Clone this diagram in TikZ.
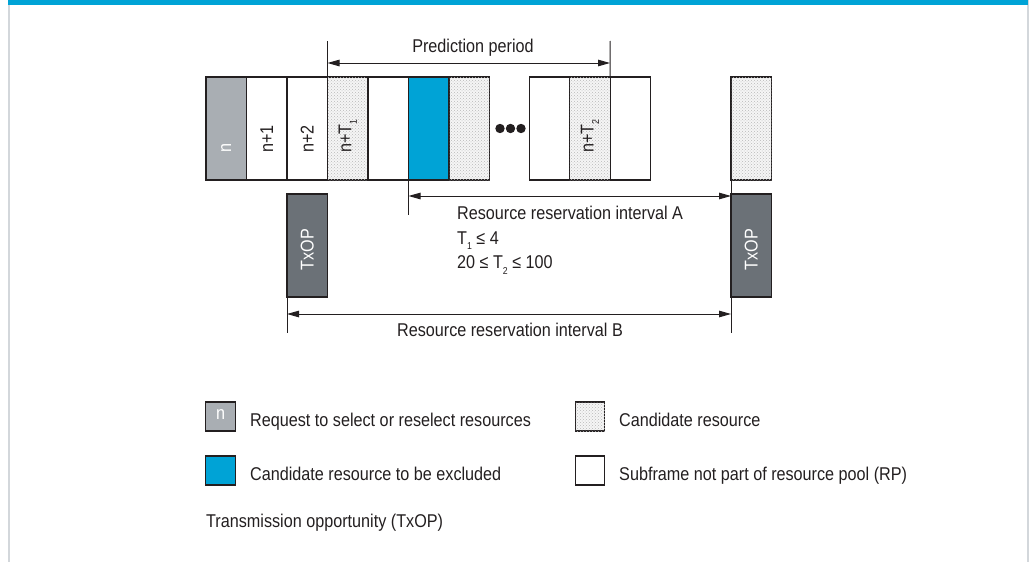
\documentclass[tikz,border=0pt]{standalone}
\usepackage{fontspec}
\setmainfont[FakeStretch=0.875]{Liberation Sans}
\usetikzlibrary{arrows.meta,patterns}
\definecolor{rsblue}{HTML}{00A3D6}
\definecolor{reqgray}{HTML}{A9AEB3}
\definecolor{txgray}{HTML}{6B7177}
\definecolor{ink}{HTML}{231F20}
\definecolor{framegray}{HTML}{D3D7DB}
\newcommand\sbs[1]{\raisebox{-0.3em}{\fontsize{10}{10}\selectfont #1}}

\begin{document}
\begin{tikzpicture}[x=1pt,y=-1pt,
  cell/.style={draw=ink, line width=1.1pt, minimum width=40.5pt, minimum height=103pt,
    inner sep=0pt, outer sep=0pt},
  emptycell/.style={cell, fill=white},
  candidate/.style={fill=gray!8, postaction={pattern=crosshatch dots, pattern color=gray!55}},
  candcell/.style={cell, candidate},
  reqcell/.style={cell, fill=reqgray},
  exclcell/.style={cell, fill=rsblue},
  txopbox/.style={cell, fill=txgray},
  legbox/.style={draw=ink, line width=1.1pt, minimum width=29.5pt, minimum height=29pt,
    inner sep=0pt, outer sep=0pt},
  txt/.style={font=\fontsize{18.5}{21}\selectfont, text=ink, inner sep=0pt},
  wtxt/.style={font=\fontsize{18.5}{21}\selectfont, text=white, inner sep=0pt},
  vlabel/.style={txt, rotate=90, anchor=west},
  tick/.style={draw=ink, line width=1pt},
  dim/.style={draw=ink, line width=1pt,
    {Triangle[length=12pt,width=6.5pt]}-{Triangle[length=12pt,width=6.5pt]}}]

\useasboundingbox (0,0) rectangle (1029,562);

% page frame
\fill[framegray] (7.5,0) rectangle (9.5,562);
\fill[framegray] (1026.5,0) rectangle (1028.5,562);
\fill[rsblue] (8,0) rectangle (1028,4.5);

% subframe row
\node[reqcell]   (b0) at (226.25,128.5) {};
\node[emptycell] (b1) at (266.75,128.5) {};
\node[emptycell] (b2) at (307.25,128.5) {};
\node[candcell]  (b3) at (347.75,128.5) {};
\node[emptycell] (b4) at (388.25,128.5) {};
\node[exclcell]  (b5) at (428.75,128.5) {};
\node[candcell]  (b6) at (469.25,128.5) {};
\node[emptycell] (b7) at (549.5,128.5) {};
\node[candcell]  (b8) at (590,128.5) {};
\node[emptycell] (b9) at (630.5,128.5) {};
\node[candcell]  (cR) at (751.25,128.5) {};

% subframe labels
\node[vlabel, text=white] at ([yshift=27pt]b0.south) {n};
\node[vlabel] at ([yshift=27pt]b1.south) {n+1};
\node[vlabel] at ([yshift=27pt]b2.south) {n+2};
\node[vlabel] at ([yshift=27pt]b3.south) {n+T\sbs{1}};
\node[vlabel] at ([yshift=27pt]b8.south) {n+T\sbs{2}};

% ellipsis
\fill[ink] (500,128.5) circle[radius=4.7pt];
\fill[ink] (510.5,128.5) circle[radius=4.7pt];
\fill[ink] (521,128.5) circle[radius=4.7pt];

% transmission opportunities
\node[txopbox] (tL) at (307.25,245.5) {};
\node[txopbox] (tR) at (751.25,245.5) {};
\node[wtxt, rotate=90] at ([yshift=-4pt]tL.center) {TxOP};
\node[wtxt, rotate=90] at ([yshift=-4pt]tR.center) {TxOP};

% prediction period
\coordinate (pa) at (327.5,41);
\coordinate (pb) at (610,41);
\coordinate (pa1) at (327.5,63);
\coordinate (pb1) at (610,63);
\draw[tick] (b3.north west) -- (pa);
\draw[tick] (b8.north east) -- (pb);
\draw[dim] (pa1) -- (pb1);
\node[txt, anchor=base] at (473,52.5) {Prediction period};

% resource reservation interval A
\coordinate (ra) at (408.5,215);
\coordinate (ra1) at (408.5,196);
\coordinate (rb1) at (731,196);
\draw[tick] (b5.south west) -- (ra);
\draw[tick] (cR.south west) -- (tR.north west);
\draw[dim] (ra1) -- (rb1);
\node[txt, anchor=base west] at (457,219) {Resource reservation interval A};
\node[txt, anchor=base west] at (457,244) {T\sbs{1} ≤ 4};
\node[txt, anchor=base west] at (457,268.5) {20 ≤ T\sbs{2} ≤ 100};

% resource reservation interval B
\coordinate (qa) at (287,333);
\coordinate (qb) at (731,333);
\coordinate (qa1) at (287,314);
\coordinate (qb1) at (731,314);
\draw[tick] (tL.south west) -- (qa);
\draw[tick] (tR.south west) -- (qb);
\draw[dim] (qa1) -- (qb1);
\node[txt, anchor=base] at (510,336) {Resource reservation interval B};

% legend
\node[legbox, fill=reqgray] (l1) at (220.5,416.5) {};
\node[wtxt] at ([yshift=1.5pt]l1.center) {n};
\node[txt, anchor=base west] at (250,426.5) {Request to select or reselect resources};
\node[legbox, candidate] (l2) at (590,416.5) {};
\node[txt, anchor=base west] at (619,426.5) {Candidate resource};
\node[legbox, fill=rsblue] (l3) at (220.5,470.5) {};
\node[txt, anchor=base west] at (250,480) {Candidate resource to be excluded};
\node[legbox, fill=white] (l4) at (590,470.5) {};
\node[txt, anchor=base west] at (619,480) {Subframe not part of resource pool (RP)};
\node[txt, anchor=base west] at (206,527) {Transmission opportunity (TxOP)};
\end{tikzpicture}
\end{document}
